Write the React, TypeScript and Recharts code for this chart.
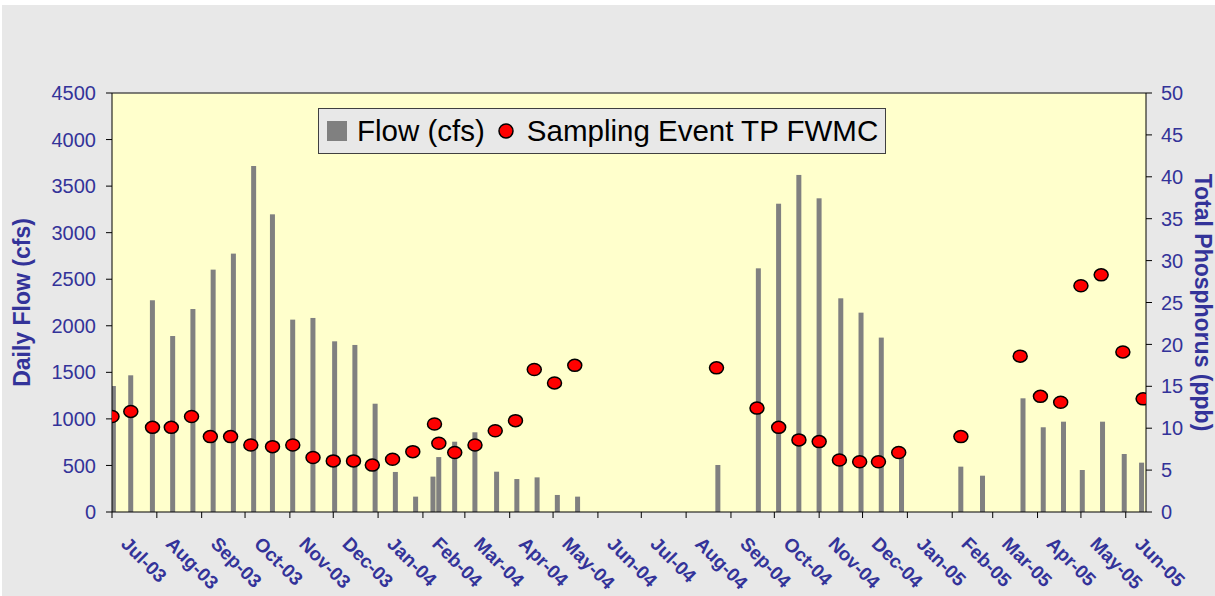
import {
  ComposedChart,
  Bar,
  Scatter,
  XAxis,
  YAxis,
  CartesianGrid,
  ReferenceLine,
  Legend,
} from 'recharts'

const AXIS_BLUE = '#333399'
const PLOT_BG = '#FFFFCC'
const PANEL_BG = '#E8E8E8'
const BAR_GRAY = '#808080'
const FONT = '"Liberation Sans", Arial, sans-serif'

// x values are days counted from 1 Jul 2003
const flowDays = [
  1, 13, 28, 42, 56, 70, 84, 98, 111, 125, 139, 154, 168, 182, 196, 210, 222, 226, 237, 251, 266, 280,
  294, 308, 322, 419, 447, 461, 475, 489, 504, 518, 532, 546, 587, 602, 630, 644, 658, 671, 685, 700,
  712,
]
const flowCfs = [
  1353, 1468, 2274, 1890, 2180, 2603, 2775, 3716, 3197, 2066, 2084, 1833, 1794, 1163, 430, 165, 380, 590,
  755, 856, 433, 354, 372, 183, 165, 505, 2617, 3311, 3620, 3369, 2295, 2141, 1873, 630, 487, 390, 1221,
  910, 970, 451, 970, 623, 530,
]

const tpDays = [
  0, 13, 28, 41, 55, 68, 82, 96, 111, 125, 139, 153, 167, 180, 194, 208, 223, 226, 237, 251, 265, 279,
  292, 306, 320, 418, 446, 461, 475, 489, 503, 517, 530, 544, 587, 628, 642, 656, 670, 684, 699, 713,
]
const tpPpb = [
  11.4, 12.0, 10.1, 10.1, 11.4, 9.0, 9.0, 8.0, 7.8, 8.0, 6.5, 6.1, 6.1, 5.6, 6.3, 7.2, 10.5, 8.2, 7.1,
  8.0, 9.7, 10.9, 17.0, 15.4, 17.5, 17.2, 12.4, 10.1, 8.6, 8.4, 6.2, 6.0, 6.0, 7.1, 9.0, 18.6, 13.8, 13.1,
  27.0, 28.3, 19.1, 13.5,
]

const monthDays = [
  0, 31, 62, 92, 123, 153, 184, 215, 244, 275, 305, 336, 366, 397, 428, 458, 489, 519, 550, 581, 609,
  640, 670, 701,
]
const monthLabels = [
  'Jul-03', 'Aug-03', 'Sep-03', 'Oct-03', 'Nov-03', 'Dec-03', 'Jan-04', 'Feb-04', 'Mar-04', 'Apr-04',
  'May-04', 'Jun-04', 'Jul-04', 'Aug-04', 'Sep-04', 'Oct-04', 'Nov-04', 'Dec-04', 'Jan-05', 'Feb-05',
  'Mar-05', 'Apr-05', 'May-05', 'Jun-05',
]
const flowTicks = [0, 500, 1000, 1500, 2000, 2500, 3000, 3500, 4000, 4500]
const tpTicks = [0, 5, 10, 15, 20, 25, 30, 35, 40, 45, 50]

const flowData = flowDays.map((day, i) => ({ day, flow: flowCfs[i] }))
const tpData = tpDays.map((day, i) => ({ day, tp: tpPpb[i] }))

function MonthTick({ x, y, payload }: any) {
  const label = monthLabels[monthDays.indexOf(payload.value)]
  return (
    <g transform={`translate(${x + 8},${y + 25})`}>
      <text
        transform="rotate(45)"
        textAnchor="start"
        fill={AXIS_BLUE}
        fontSize={19}
        fontWeight="bold"
        fontFamily={FONT}
      >
        {label}
      </text>
    </g>
  )
}

// thin flow bar centred on its date, height from the library's scale
function FlowBar({ x, y, width, height }: any) {
  if (x == null || y == null || !height) return null
  const cx = x + width / 2
  return <rect x={cx - 2.5} y={y} width={5} height={height} fill={BAR_GRAY} />
}

function SampleDot({ cx, cy }: any) {
  if (cx == null || cy == null) return null
  return <ellipse cx={cx} cy={cy} rx={7} ry={6} fill="#FF0000" stroke="#000" strokeWidth={1.5} />
}

function ChartLegend() {
  return (
    <div
      style={{
        boxSizing: 'border-box',
        width: 568,
        height: 46,
        background: PANEL_BG,
        border: '1px solid #404040',
        display: 'flex',
        alignItems: 'center',
        fontFamily: FONT,
        fontSize: 29.5,
        color: '#000',
        whiteSpace: 'nowrap',
      }}
    >
      <span style={{ width: 20, height: 20, background: BAR_GRAY, marginLeft: 8, marginRight: 10 }} />
      <span>Flow (cfs)</span>
      <svg width={18} height={18} style={{ marginLeft: 12, marginRight: 12 }}>
        <circle cx={9} cy={9} r={7} fill="#FF0000" stroke="#000" strokeWidth={1.5} />
      </svg>
      <span>Sampling Event TP FWMC</span>
    </div>
  )
}

export default function App() {
  const tickStyle = { fill: AXIS_BLUE, fontSize: 20, fontFamily: FONT }
  return (
    <div style={{ position: 'absolute', top: 0, left: 0, width: 1215, height: 596, background: '#fff' }}>
      <div style={{ position: 'absolute', top: 5, left: 2, right: 0, bottom: 0, background: PANEL_BG }} />
      <div style={{ position: 'absolute', top: 0, left: 0 }}>
        <ComposedChart
          width={1215}
          height={596}
          data={flowData}
          margin={{ top: 93, right: 0, bottom: 0, left: 0 }}
        >
          <CartesianGrid yAxisId="left" fill={PLOT_BG} horizontal={false} vertical={false} />
          <XAxis
            dataKey="day"
            type="number"
            domain={[0, 715]}
            allowDataOverflow
            ticks={monthDays}
            interval={0}
            height={84}
            tickSize={6}
            tickMargin={2}
            axisLine={{ stroke: '#000' }}
            tickLine={{ stroke: '#000' }}
            tick={<MonthTick />}
          />
          <YAxis
            yAxisId="left"
            domain={[0, 4500]}
            ticks={flowTicks}
            width={112}
            tickSize={6}
            tickMargin={10}
            axisLine={{ stroke: '#000' }}
            tickLine={{ stroke: '#000' }}
            tick={tickStyle}
            label={{
              value: 'Daily Flow (cfs)',
              angle: -90,
              position: 'insideLeft',
              offset: 22,
              fill: AXIS_BLUE,
              fontSize: 23,
              fontWeight: 'bold',
              fontFamily: FONT,
              style: { textAnchor: 'middle' },
            }}
          />
          <YAxis
            yAxisId="right"
            orientation="right"
            domain={[0, 50]}
            ticks={tpTicks}
            width={69}
            tickSize={6}
            tickMargin={9}
            axisLine={{ stroke: '#000' }}
            tickLine={{ stroke: '#000' }}
            tick={tickStyle}
            label={{
              value: 'Total Phosphorus (ppb)',
              angle: 90,
              position: 'insideRight',
              offset: 12,
              fill: AXIS_BLUE,
              fontSize: 23,
              fontWeight: 'bold',
              fontFamily: FONT,
              style: { textAnchor: 'middle' },
            }}
          />
          <ReferenceLine yAxisId="left" y={4500} stroke="#555" strokeWidth={1.5} />
          <Legend
            layout="vertical"
            align="center"
            verticalAlign="middle"
            wrapperStyle={{ top: 108, left: 318, width: 568, height: 46 }}
            content={() => <ChartLegend />}
          />
          <Bar
            yAxisId="left"
            dataKey="flow"
            name="Flow (cfs)"
            fill={BAR_GRAY}
            shape={<FlowBar />}
            isAnimationActive={false}
          />
          <Scatter
            yAxisId="right"
            data={tpData}
            dataKey="tp"
            name="Sampling Event TP FWMC"
            shape={<SampleDot />}
            isAnimationActive={false}
          />
        </ComposedChart>
      </div>
    </div>
  )
}
